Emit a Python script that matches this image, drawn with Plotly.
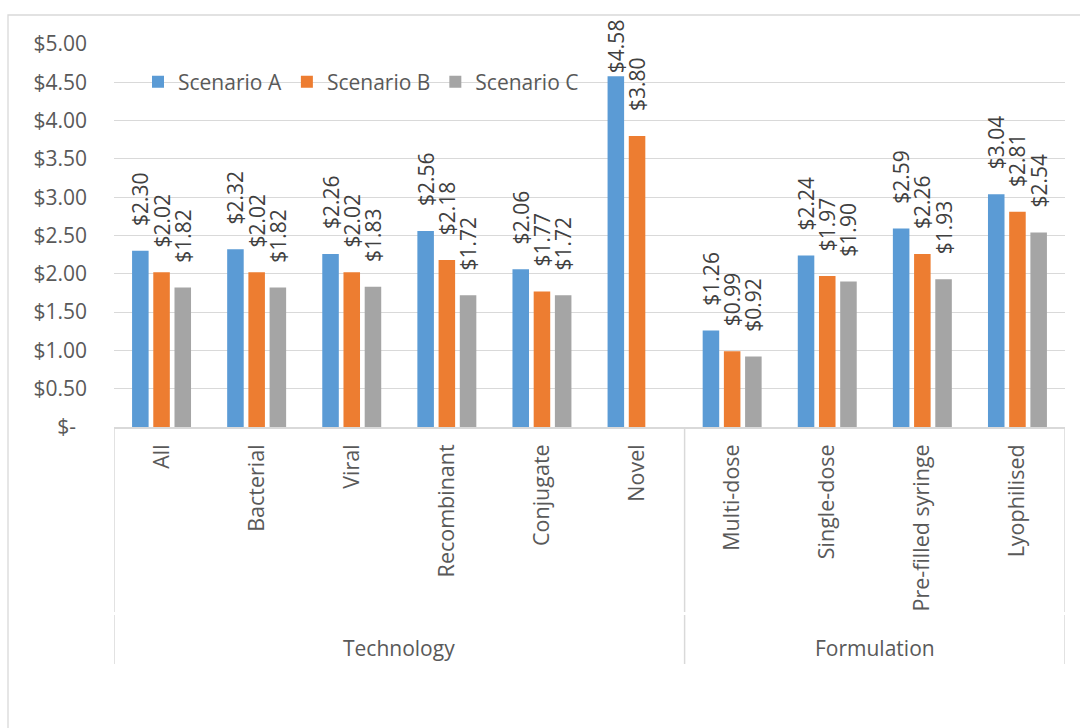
import plotly.graph_objects as go

# ---- data -------------------------------------------------------------
categories = ["All", "Bacterial", "Viral", "Recombinant", "Conjugate", "Novel",
              "Multi-dose", "Single-dose", "Pre-filled syringe", "Lyophilised"]
groups = ["Technology"] * 6 + ["Formulation"] * 4

scenario_a = [2.30, 2.32, 2.26, 2.56, 2.06, 4.58, 1.26, 2.24, 2.59, 3.04]
scenario_b = [2.02, 2.02, 2.02, 2.18, 1.77, 3.80, 0.99, 1.97, 2.26, 2.81]
scenario_c = [1.82, 1.82, 1.83, 1.72, 1.72, None, 0.92, 1.90, 1.93, 2.54]

series_names = ["Scenario A", "Scenario B", "Scenario C"]
series_values = [scenario_a, scenario_b, scenario_c]
series_colors = ["#5b9bd5", "#ed7d31", "#a5a5a5"]

y_tick_values = [0, 0.5, 1.0, 1.5, 2.0, 2.5, 3.0, 3.5, 4.0, 4.5, 5.0]
y_tick_labels = ["$-\u00a0\u00a0", "$0.50", "$1.00", "$1.50", "$2.00", "$2.50",
                 "$3.00", "$3.50", "$4.00", "$4.50", "$5.00"]

# ---- layout constants ---------------------------------------------------
W, H = 1080, 728
ML, MR, MT, MB = 114, 15, 44, 301
PLOT_W = W - ML - MR
PLOT_H = H - MT - MB
FONT = "Open Sans"
TEXT_GREY = "#595959"
LABEL_GREY = "#404040"
LINE_GREY = "#d9d9d9"
NBSP = "\u00a0"
Y_MAX = 5.0


def px_x(px):
    return (px - ML) / PLOT_W


def px_y(py):
    return (H - MB - py) / PLOT_H


def label_text(v):
    # accounting-style padding in front of the value; labels near the top of
    # the plot are pulled back so they stay inside the chart frame
    if v is None:
        return ""
    pad = NBSP * 4 if v < Y_MAX * 0.84 else ""
    return f"{pad}${v:.2f}"


fig = go.Figure()
for name, vals, col in zip(series_names, series_values, series_colors):
    fig.add_trace(go.Bar(
        name=name,
        x=categories,
        y=vals,
        marker=dict(color=col, line=dict(width=0)),
        text=[label_text(v) for v in vals],
        textposition="outside",
        textangle=-90,
        constraintext="none",
        textfont=dict(family=FONT, size=21, color=LABEL_GREY),
        cliponaxis=False,
        hoverinfo="skip",
    ))

shapes = []
# outer chart frame
shapes.append(dict(type="rect", xref="paper", yref="paper",
                   x0=px_x(8), x1=px_x(W + 6), y0=px_y(H + 6), y1=px_y(15),
                   line=dict(color=LINE_GREY, width=1.3), layer="below"))

# group dividers below the category axis
boundaries = set()
for g in dict.fromkeys(groups):
    idx = [i for i, gg in enumerate(groups) if gg == g]
    boundaries.add(idx[0] - 0.5)
    boundaries.add(idx[-1] + 0.5)
for b in sorted(boundaries):
    for y0, y1 in [(-185, 0), (-237, -188)]:
        shapes.append(dict(type="line", xref="x", yref="paper",
                           ysizemode="pixel", yanchor=0,
                           x0=b, x1=b, y0=y0, y1=y1,
                           line=dict(color=LINE_GREY, width=1.5)))

annotations = []
for g in dict.fromkeys(groups):
    idx = [i for i, gg in enumerate(groups) if gg == g]
    annotations.append(dict(
        x=(idx[0] + idx[-1]) / 2, y=0, xref="x", yref="paper",
        yshift=-221, yanchor="middle", xanchor="center",
        text=g, showarrow=False,
        font=dict(family=FONT, size=21, color=TEXT_GREY),
    ))

fig.update_layout(
    width=W, height=H,
    margin=dict(l=ML, r=MR, t=MT, b=MB, pad=0),
    paper_bgcolor="white", plot_bgcolor="white",
    barmode="group", bargap=0.331, bargroupgap=0.22,
    uniformtext=dict(mode=False),
    font=dict(family=FONT, size=21, color=TEXT_GREY),
    showlegend=True,
    legend=dict(orientation="h", x=px_x(138), y=px_y(82),
                xanchor="left", yanchor="middle",
                bgcolor="rgba(0,0,0,0)",
                font=dict(family=FONT, size=21, color=TEXT_GREY),
                traceorder="normal"),
    shapes=shapes,
    annotations=annotations,
    xaxis=dict(
        type="category",
        categoryorder="array", categoryarray=categories,
        range=[-0.5, len(categories) - 0.5],
        showgrid=False, zeroline=False,
        showline=True, linecolor=LINE_GREY, linewidth=1.5,
        ticks="", tickangle=-90, ticklabelstandoff=7,
        tickfont=dict(family=FONT, size=21.5, color=TEXT_GREY),
        fixedrange=True,
    ),
    yaxis=dict(
        range=[0, Y_MAX],
        tickvals=y_tick_values, ticktext=y_tick_labels,
        showgrid=True, gridcolor=LINE_GREY, gridwidth=1.3,
        zeroline=False, showline=False,
        ticks="", ticklabelstandoff=26,
        tickfont=dict(family=FONT, size=21, color=TEXT_GREY),
        fixedrange=True,
    ),
)

fig.write_html("out.html", config={"displayModeBar": False})
